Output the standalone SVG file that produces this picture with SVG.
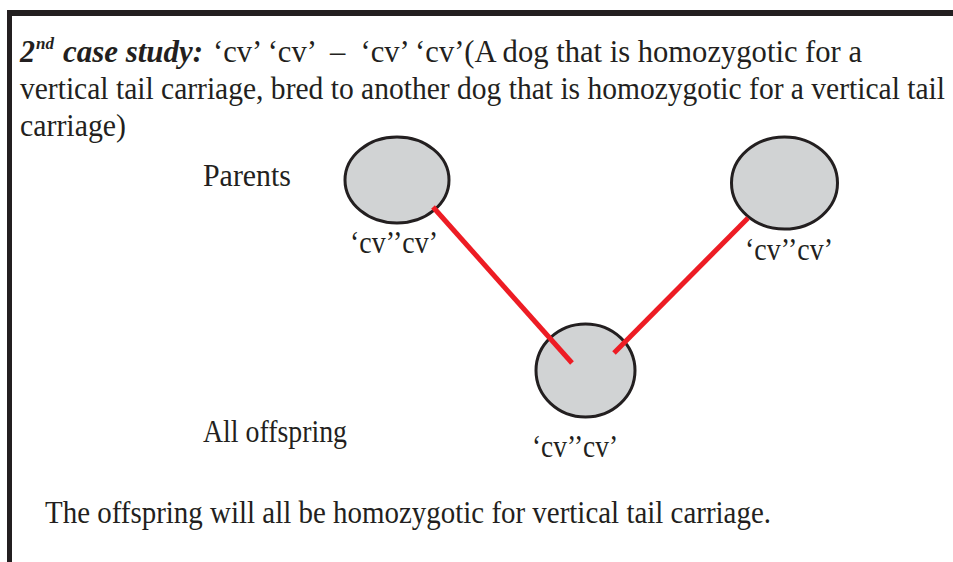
<svg xmlns="http://www.w3.org/2000/svg" width="953" height="562" viewBox="0 0 953 562">
<style>
.t{font-family:"Liberation Serif","Times New Roman",serif;font-size:32px;fill:#231f20}
.b{font-weight:bold;font-style:italic}
.node{fill:#d1d3d4;stroke:#231f20;stroke-width:3}
.edge{stroke:#ed1c24;stroke-width:5;fill:none}
</style>
<rect x="0" y="0" width="953" height="562" fill="#ffffff"/>
<g id="frame">
<rect x="7" y="10" width="946" height="6" fill="#231f20"/>
<rect x="7" y="10" width="5" height="552" fill="#231f20"/>
</g>
<g id="title">
<text class="t b" x="20" y="62" textLength="15" lengthAdjust="spacingAndGlyphs">2</text>
<text class="t b" x="36" y="49" style="font-size:17px" textLength="18" lengthAdjust="spacingAndGlyphs">nd</text>
<text class="t b" x="63" y="62" textLength="140" lengthAdjust="spacingAndGlyphs">case study:</text>
<text class="t" x="213" y="62" xml:space="preserve" textLength="649" lengthAdjust="spacingAndGlyphs">‘cv’ ‘cv’  –  ‘cv’ ‘cv’(A dog that is homozygotic for a</text>
<text class="t" x="20" y="99" textLength="925" lengthAdjust="spacingAndGlyphs">vertical tail carriage, bred to another dog that is homozygotic for a vertical tail</text>
<text class="t" x="20" y="136" textLength="106" lengthAdjust="spacingAndGlyphs">carriage)</text>
</g>
<g id="parent1">
<ellipse class="node" cx="397" cy="180" rx="52" ry="43"/>
<text class="t" x="350" y="253" textLength="88" lengthAdjust="spacingAndGlyphs">‘cv’’cv’</text>
</g>
<g id="parent2">
<ellipse class="node" cx="784.5" cy="183" rx="53" ry="46"/>
<text class="t" x="745" y="260" textLength="88" lengthAdjust="spacingAndGlyphs">‘cv’’cv’</text>
</g>
<g id="offspring">
<ellipse class="node" cx="585.5" cy="370.5" rx="49.5" ry="46.5"/>
<text class="t" x="532" y="457" textLength="86" lengthAdjust="spacingAndGlyphs">‘cv’’cv’</text>
</g>
<g id="labels">
<text class="t" x="203" y="186" textLength="88" lengthAdjust="spacingAndGlyphs">Parents</text>
<text class="t" x="203" y="442" textLength="144" lengthAdjust="spacingAndGlyphs">All offspring</text>
<text class="t" x="45" y="523" textLength="726" lengthAdjust="spacingAndGlyphs">The offspring will all be homozygotic for vertical tail carriage.</text>
</g>
<g id="connectors">
<line class="edge" x1="433" y1="207" x2="572" y2="363"/>
<line class="edge" x1="748" y1="218" x2="614" y2="353"/>
</g>
</svg>
